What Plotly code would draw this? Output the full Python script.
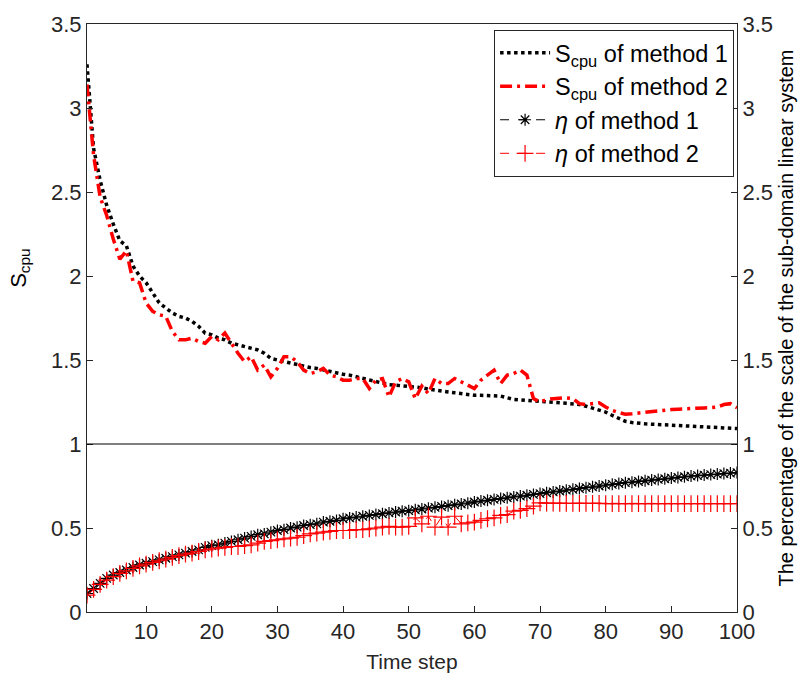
import plotly.graph_objects as go

time_step = list(range(1, 101))

scpu_method1 = [
    3.26, 2.76, 2.57, 2.42, 2.31, 2.21, 2.18, 2.06, 2.00, 1.96,
    1.90, 1.84, 1.81, 1.78, 1.76, 1.75, 1.73, 1.70, 1.66, 1.65,
    1.63, 1.62, 1.60, 1.59, 1.58, 1.57, 1.56, 1.54, 1.51, 1.50,
    1.49, 1.48, 1.47, 1.46, 1.455, 1.45, 1.44, 1.43, 1.42, 1.415,
    1.41, 1.40, 1.39, 1.38, 1.37, 1.36, 1.353, 1.35, 1.347, 1.345,
    1.34, 1.335, 1.327, 1.32, 1.315, 1.31, 1.305, 1.30, 1.293, 1.29,
    1.29, 1.288, 1.287, 1.285, 1.275, 1.265, 1.262, 1.26, 1.258, 1.255,
    1.25, 1.248, 1.245, 1.242, 1.238, 1.235, 1.225, 1.215, 1.205, 1.19,
    1.17, 1.15, 1.135, 1.128, 1.122, 1.12, 1.118, 1.116, 1.115, 1.114,
    1.113, 1.11, 1.108, 1.105, 1.102, 1.10, 1.098, 1.096, 1.094, 1.092,
]

scpu_method2 = [
    3.14, 2.72, 2.47, 2.36, 2.22, 2.10, 2.15, 1.97, 1.96, 1.84,
    1.79, 1.77, 1.76, 1.67, 1.62, 1.62, 1.63, 1.61, 1.60, 1.64,
    1.62, 1.66, 1.60, 1.54, 1.49, 1.52, 1.44, 1.47, 1.40, 1.45,
    1.52, 1.52, 1.49, 1.44, 1.42, 1.43, 1.45, 1.41, 1.40, 1.38,
    1.38, 1.39, 1.39, 1.33, 1.38, 1.39, 1.28, 1.37, 1.39, 1.37,
    1.27, 1.345, 1.30, 1.39, 1.36, 1.36, 1.39, 1.37, 1.35, 1.33,
    1.38, 1.41, 1.44, 1.36, 1.41, 1.42, 1.44, 1.41, 1.27, 1.25,
    1.265, 1.27, 1.275, 1.275, 1.27, 1.24, 1.235, 1.24, 1.245, 1.22,
    1.20, 1.187, 1.177, 1.18, 1.185, 1.187, 1.19, 1.195, 1.20, 1.205,
    1.207, 1.21, 1.212, 1.214, 1.215, 1.216, 1.22, 1.235, 1.24, 1.216,
]

eta_method1 = [
    0.11, 0.14, 0.17, 0.20, 0.22, 0.235, 0.25, 0.265, 0.28, 0.29,
    0.30, 0.31, 0.32, 0.33, 0.34, 0.35, 0.36, 0.37, 0.385, 0.395,
    0.40, 0.41, 0.42, 0.43, 0.44, 0.45, 0.46, 0.465, 0.475, 0.485,
    0.49, 0.50, 0.505, 0.515, 0.52, 0.525, 0.535, 0.54, 0.545, 0.555,
    0.56, 0.565, 0.57, 0.575, 0.58, 0.585, 0.59, 0.595, 0.60, 0.603,
    0.608, 0.613, 0.618, 0.623, 0.628, 0.633, 0.638, 0.643, 0.648, 0.655,
    0.66, 0.665, 0.67, 0.675, 0.68, 0.685, 0.69, 0.695, 0.70, 0.705,
    0.71, 0.715, 0.72, 0.725, 0.73, 0.735, 0.74, 0.745, 0.75, 0.755,
    0.76, 0.765, 0.77, 0.773, 0.777, 0.781, 0.785, 0.789, 0.793, 0.797,
    0.801, 0.805, 0.809, 0.812, 0.815, 0.818, 0.821, 0.824, 0.827, 0.83,
]

eta_method2 = [
    0.10, 0.135, 0.165, 0.19, 0.21, 0.23, 0.245, 0.26, 0.275, 0.285,
    0.295, 0.305, 0.315, 0.325, 0.335, 0.345, 0.35, 0.36, 0.37, 0.375,
    0.38, 0.385, 0.39, 0.39, 0.395, 0.40, 0.41, 0.42, 0.425, 0.43,
    0.435, 0.44, 0.445, 0.455, 0.465, 0.47, 0.475, 0.48, 0.485, 0.485,
    0.485, 0.49, 0.49, 0.495, 0.50, 0.505, 0.51, 0.505, 0.505, 0.51,
    0.56, 0.525, 0.57, 0.505, 0.565, 0.505, 0.57, 0.525, 0.53, 0.535,
    0.545, 0.555, 0.56, 0.575, 0.58, 0.60, 0.605, 0.615, 0.63, 0.65,
    0.648, 0.648, 0.647, 0.647, 0.647, 0.646, 0.646, 0.646, 0.646, 0.645,
    0.645, 0.645, 0.645, 0.645, 0.645, 0.645, 0.645, 0.645, 0.645, 0.645,
    0.645, 0.645, 0.645, 0.645, 0.645, 0.645, 0.645, 0.645, 0.645, 0.645,
]

y_ticks = [0, 0.5, 1, 1.5, 2, 2.5, 3, 3.5]
x_ticks = [10, 20, 30, 40, 50, 60, 70, 80, 90, 100]
divider_value = 1

FONT = "Liberation Sans, Arial, sans-serif"
AX = "#262626"

fig = go.Figure()

fig.add_trace(go.Scatter(
    x=time_step, y=scpu_method1, mode="lines",
    name="S<sub>cpu</sub> of method 1",
    line=dict(color="black", width=3.5, dash="dot"),
))
fig.add_trace(go.Scatter(
    x=time_step, y=scpu_method2, mode="lines",
    name="S<sub>cpu</sub> of method 2",
    line=dict(color="red", width=3.5, dash="12px,5px,3px,5px"),
))
fig.add_trace(go.Scatter(
    x=time_step, y=eta_method1, mode="lines+markers", yaxis="y2",
    name="<i>η</i> of method 1",
    line=dict(color="black", width=1, dash="dash"),
    marker=dict(symbol="asterisk-open", size=10, color="black",
                line=dict(color="black", width=1.2)),
))
fig.add_trace(go.Scatter(
    x=time_step, y=eta_method2, mode="lines+markers", yaxis="y2",
    name="<i>η</i> of method 2",
    line=dict(color="red", width=1, dash="dash"),
    marker=dict(symbol="cross-thin-open", size=12, color="red",
                line=dict(color="red", width=1.2)),
))

fig.add_shape(type="line", xref="x domain", yref="y",
              x0=0, x1=1, y0=divider_value, y1=divider_value,
              line=dict(color="black", width=1))

axis_common = dict(
    range=[0, 3.5], tickvals=y_ticks, ticks="inside", ticklen=6,
    tickcolor=AX, showline=True, linecolor=AX, linewidth=1,
    showgrid=False, zeroline=False,
    tickfont=dict(family=FONT, size=22, color=AX),
)

fig.update_layout(
    width=809, height=681, autosize=False,
    margin=dict(l=87, r=72, t=15, b=68),
    paper_bgcolor="white", plot_bgcolor="white",
    font=dict(family=FONT, color=AX),
    xaxis=dict(
        range=[1, 100], tickvals=x_ticks, ticks="inside", ticklen=6,
        tickcolor=AX, showline=True, linecolor=AX, linewidth=1, mirror=True,
        showgrid=False, zeroline=False,
        tickfont=dict(family=FONT, size=22, color=AX),
        title=dict(text="Time step", font=dict(family=FONT, size=21, color=AX),
                   standoff=10),
    ),
    yaxis=dict(**axis_common),
    yaxis2=dict(**axis_common, overlaying="y", side="right", anchor="x",
                title=dict(text="The percentage of the scale of the sub-domain linear system",
                           font=dict(family=FONT, size=20, color="black"),
                           standoff=7)),
    legend=dict(
        x=0.9955, y=0.99, xanchor="right", yanchor="top",
        bgcolor="white", bordercolor=AX, borderwidth=1,
        font=dict(family=FONT, size=23.5, color="black"),
        tracegroupgap=0, itemwidth=50,
    ),
    showlegend=True,
)

fig.add_annotation(
    text="S<sub>cpu</sub>", xref="paper", yref="paper",
    x=-0.128, y=0.585, textangle=-90, showarrow=False,
    font=dict(family=FONT, size=22, color="black"),
)

fig.write_html("out.html")
